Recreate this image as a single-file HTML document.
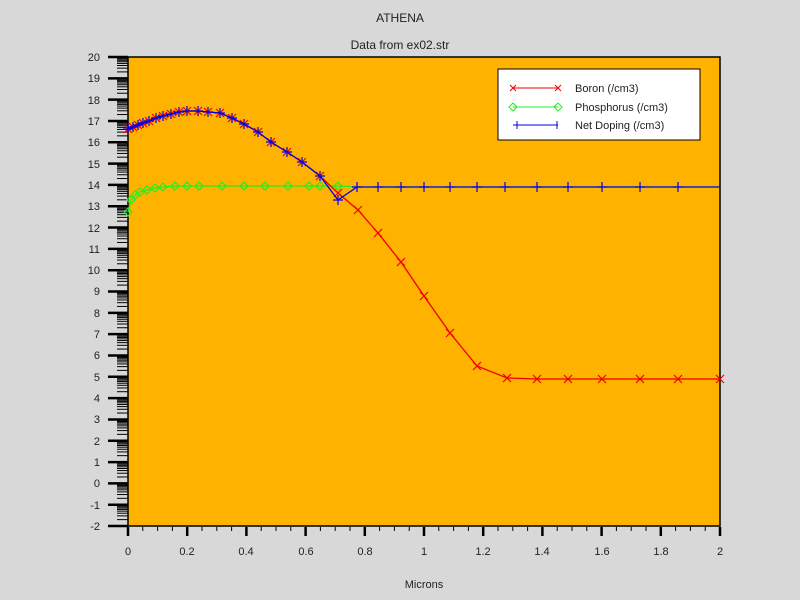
<!DOCTYPE html>
<html><head><meta charset="utf-8">
<style>
html,body{margin:0;padding:0;background:#d8d8d8;}
svg{display:block;font-family:"Liberation Sans",sans-serif;}
</style></head><body>
<svg id="s" width="800" height="600" xmlns="http://www.w3.org/2000/svg">
<rect width="800" height="600" fill="#d8d8d8"/>
<text x="400" y="22" font-size="12" text-anchor="middle" fill="#222">ATHENA</text>
<text x="400" y="49" font-size="12" text-anchor="middle" fill="#222">Data from ex02.str</text>
<text x="424" y="588" font-size="11" text-anchor="middle" fill="#222">Microns</text>
<rect x="128" y="57" width="592" height="469" fill="#ffb300" stroke="#000" stroke-width="1.5"/>
<g id="ticks" stroke="#000"></g>
<g font-size="11" fill="#222" text-anchor="end">
<text x="100" y="61">20</text><text x="100" y="82">19</text><text x="100" y="104">18</text><text x="100" y="125">17</text><text x="100" y="146">16</text><text x="100" y="168">15</text><text x="100" y="189">14</text><text x="100" y="210">13</text><text x="100" y="232">12</text><text x="100" y="253">11</text><text x="100" y="274">10</text><text x="100" y="295">9</text><text x="100" y="317">8</text><text x="100" y="338">7</text><text x="100" y="359">6</text><text x="100" y="381">5</text><text x="100" y="402">4</text><text x="100" y="423">3</text><text x="100" y="445">2</text><text x="100" y="466">1</text><text x="100" y="487">0</text><text x="100" y="509">-1</text><text x="100" y="530">-2</text>
</g>
<g font-size="11" fill="#222" text-anchor="middle">
<text x="128" y="555">0</text><text x="187" y="555">0.2</text><text x="246" y="555">0.4</text><text x="306" y="555">0.6</text><text x="365" y="555">0.8</text><text x="424" y="555">1</text><text x="483" y="555">1.2</text><text x="542" y="555">1.4</text><text x="602" y="555">1.6</text><text x="661" y="555">1.8</text><text x="720" y="555">2</text>
</g>
<g id="series"></g>
<rect x="498" y="69" width="202" height="71" fill="#fff" stroke="#000" stroke-width="1"/>
<line x1="513" y1="88" x2="558" y2="88" stroke="#e00"/>
<path d="M510,85l6,6M510,91l6,-6M555,85l6,6M555,91l6,-6" stroke="#e00"/>
<line x1="513" y1="107" x2="558" y2="107" stroke="#2e2"/>
<path d="M513,103l-4,4l4,4l4,-4zM558,103l-4,4l4,4l4,-4z" fill="none" stroke="#2e2"/>
<line x1="513" y1="125" x2="558" y2="125" stroke="#00e"/>
<path d="M517,121v8M557,121v8" stroke="#00e"/>
<g font-size="11" fill="#222"><text x="575" y="92">Boron (/cm3)</text><text x="575" y="111">Phosphorus (/cm3)</text><text x="575" y="129">Net Doping (/cm3)</text></g>
</svg>
<script>
var NS="http://www.w3.org/2000/svg",t=document.getElementById("ticks"),S=document.getElementById("series");
function ln(g,x1,y1,x2,y2,c,w){var l=document.createElementNS(NS,"line");l.setAttribute("x1",x1);l.setAttribute("y1",y1);l.setAttribute("x2",x2);l.setAttribute("y2",y2);l.setAttribute("stroke",c);l.setAttribute("stroke-width",w||1);g.appendChild(l);}
function Y(v){return 483.4-21.32*v;}
for(var v=-2;v<=20;v++){ln(t,108,Y(v),128,Y(v),"#000",2.5);if(v<20)for(var k=2;k<10;k++){var y=Y(v+Math.log10(k));ln(t,117,y,128,y,"#000",1);}}
for(var i=0;i<=40;i++){var x=128+i*14.8;if(i%4==0)ln(t,x,527,x,536,"#000",2.5);else ln(t,x,527,x,531,"#000",1);}
function poly(pts,c){var p=document.createElementNS(NS,"polyline");p.setAttribute("points",pts.map(function(a){return a.join(",")}).join(" "));p.setAttribute("fill","none");p.setAttribute("stroke",c);p.setAttribute("stroke-width",1.3);S.appendChild(p);}
function path(d,c){var p=document.createElementNS(NS,"path");p.setAttribute("d",d);p.setAttribute("fill","none");p.setAttribute("stroke",c);p.setAttribute("stroke-width",1.2);S.appendChild(p);}
var ph=[[128,212],[131,200],[135,195],[140,192],[147,190],[155,188],[163,187],[175,186],[187,186],[199,186],[222,186],[244,186],[265,186],[288,186],[309,186],[320,186],[338,186],[357,187],[720,187]];
poly(ph,"#2e2");
var d="";ph.slice(0,17).forEach(function(p){d+="M"+p[0]+","+(p[1]-4)+"l-4,4l4,4l4,-4z";});path(d,"#2e2");
var b=[[128,129],[133,127],[138,125],[143,123],[149,121],[156,118],[163,116],[171,114],[179,112],[187,111],[198,111],[208,112],[220,113],[232,118],[244,124],[258,132],[271,142],[287,152],[302,162],[320,176],[338,193],[358,210],[378,233],[401,262],[424,296],[450,333],[477,366],[507,378],[537,379],[568,379],[602,379],[640,379],[678,379],[720,379]];
poly(b,"#e00");
d="";b.forEach(function(p){d+="M"+(p[0]-4)+","+(p[1]-4)+"l8,8M"+(p[0]-4)+","+(p[1]+4)+"l8,-8";});path(d,"#e00");
var n=b.slice(0,20).concat([[338,200],[357,187],[378,187],[401,187],[424,187],[450,187],[477,187],[505,187],[537,187],[568,187],[602,187],[640,187],[678,187],[720,187]]);
poly(n,"#00e");
d="";n.slice(0,33).forEach(function(p){d+="M"+(p[0]-5)+","+p[1]+"h10M"+p[0]+","+(p[1]-5)+"v10";});path(d,"#00e");
</script>
</body></html>
